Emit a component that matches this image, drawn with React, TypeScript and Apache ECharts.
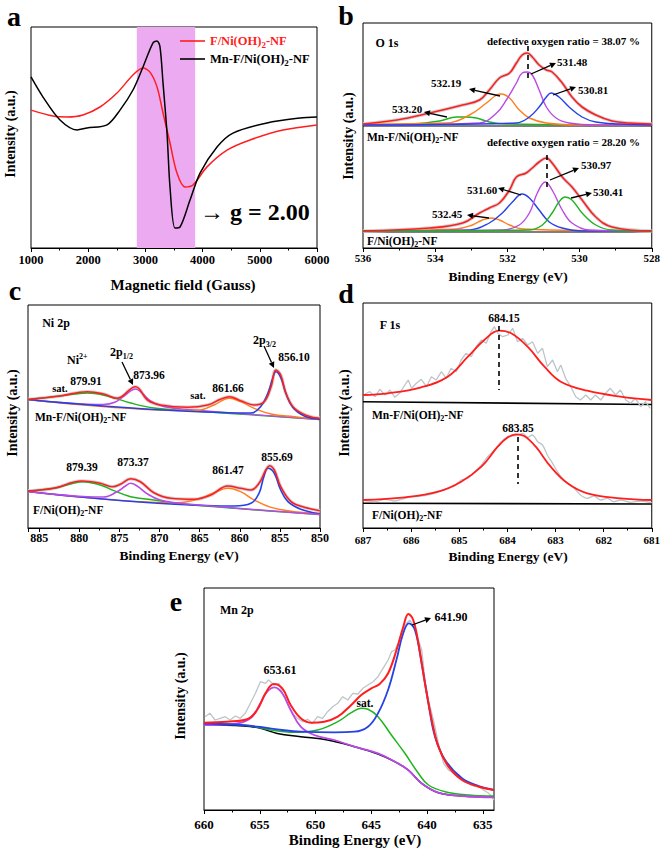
import React, { useEffect, useRef } from 'react';
import * as echarts from 'echarts';

const FONT = '"Liberation Serif", "Times New Roman", serif';
const RED = '#ff1e1e';
const BLUE = '#2642e6';
const PURPLE = '#b94ae6';
const ORANGE = '#ff7d1e';
const GREEN = '#1eb41e';
const GRAY = '#bcc5c9';
const HALO = '#cfd5d8';
const PINK = '#ecaaf0';

// ---------- panel a : EPR ----------
const A_PINK = [2850, 3870];
const A_MN_X = [1000, 1210, 1507, 1804, 1979, 2329, 2556, 2783, 2958, 3133, 3203, 3255, 3308, 3378, 3430, 3517, 3605, 3780, 3955, 4252, 4531, 5126, 5703, 6000];
const A_MN_Y = [77.4, 68.3, 57.9, 53.4, 54.3, 55.7, 62.4, 71.5, 81.9, 92.8, 93.7, 91.0, 74.7, 52.0, 27.6, 9.0, 9.5, 21.7, 33.9, 45.7, 52.0, 56.6, 58.8, 59.3];
const A_F_X = [1000, 1385, 1629, 1909, 2206, 2503, 2783, 2958, 3080, 3203, 3308, 3430, 3552, 3692, 3832, 4077, 4427, 4829, 5406, 6000];
const A_F_Y = [62.4, 59.7, 59.3, 60.2, 63.8, 70.1, 78.3, 81.4, 79.6, 72.9, 61.1, 47.5, 33.9, 27.6, 28.5, 36.7, 44.3, 48.9, 53.4, 55.7];

// ---------- panel b : O 1s ----------
const B_UP_ENV_E = [536, 535.06, 534.15, 533.24, 532.77, 532.5, 532.22, 531.94, 531.75, 531.59, 531.45, 531.31, 531.12, 530.92, 530.76, 530.48, 530.21, 529.93, 529.55, 529.1, 528.63, 528];
const B_UP_ENV = [124, 128, 135, 143, 148, 158, 170, 175, 185, 193, 195, 191, 183, 178, 176, 165, 151, 141, 133, 127, 125, 124];
const B_UP_GREEN_E = [536, 534.62, 533.88, 533.41, 533.19, 532.86, 532.5, 532.03, 528];
const B_UP_GREEN = [123, 124, 127, 131, 131, 130, 126, 124, 123];
const B_UP_ORANGE_E = [536, 533.68, 533.05, 532.58, 532.3, 532.17, 531.94, 531.67, 531.39, 530.92, 530.01, 528];
const B_UP_ORANGE = [124, 125, 133, 145, 153, 154, 150, 138, 130, 125, 123, 123];
const B_UP_PURPLE_E = [536, 532.77, 532.3, 532.03, 531.75, 531.59, 531.45, 531.31, 531.12, 530.92, 530.65, 530.29, 529.55, 528];
const B_UP_PURPLE = [123, 125, 135, 148, 165, 175, 176, 173, 158, 141, 130, 125, 123, 123];
const B_UP_BLUE_E = [536, 531.75, 531.39, 531.12, 530.92, 530.79, 530.57, 530.29, 529.93, 529.55, 528.91, 528];
const B_UP_BLUE = [123, 125, 131, 141, 151, 155, 151, 141, 131, 126, 124, 123];
const B_UP_BASE = [122, 122];
const B_LO_ENV_E = [536, 534.15, 533.24, 532.77, 532.5, 532.22, 531.94, 531.75, 531.48, 531.31, 531.12, 530.92, 530.76, 530.48, 530.21, 529.93, 529.55, 529.1, 528];
const B_LO_ENV = [17, 20, 25, 35, 40, 45, 58, 71, 75, 80, 86, 90, 85, 71, 61, 48, 31, 21, 17];
const B_LO_ORANGE_E = [536, 533.41, 532.97, 532.69, 532.44, 532.22, 531.94, 531.59, 528];
const B_LO_ORANGE = [17, 19, 23, 28, 30, 28, 23, 19, 17];
const B_LO_BLUE_E = [536, 533.05, 532.5, 532.14, 531.86, 531.59, 531.39, 531.12, 530.84, 530.48, 529.93, 528];
const B_LO_BLUE = [17, 18, 25, 35, 46, 54, 50, 38, 26, 20, 17, 17];
const B_LO_PURPLE_E = [536, 532.14, 531.67, 531.39, 531.17, 530.95, 530.76, 530.48, 530.21, 529.74, 528];
const B_LO_PURPLE = [17, 18, 23, 35, 55, 66, 58, 38, 25, 18, 17];
const B_LO_GREEN_E = [536, 531.39, 531.03, 530.76, 530.57, 530.4, 530.21, 529.93, 529.55, 529.1, 528];
const B_LO_GREEN = [17, 18, 23, 35, 46, 51, 48, 35, 23, 18, 17];
const B_LO_BASE = [16, 16];
const B_ENDS = [536, 528];

// ---------- panel c : Ni 2p ----------
const C_UP_ENV_E = [886.4, 882.4, 879.0, 877.0, 875.3, 873.0, 871.5, 869.9, 866.5, 864.0, 862.4, 861.3, 859.9, 858.2, 856.96, 856.1, 855.5, 854.9, 854.25, 853.2, 851.5, 850];
const C_UP_ENV = [128.5, 132, 136.3, 134, 129.7, 141.3, 128, 123, 120.7, 123, 128.7, 131.3, 127.3, 123, 126.3, 141.3, 158, 153, 134.7, 119.7, 112, 109.7];
const C_UP_GREEN_E = [886.4, 882.4, 879.0, 876.5, 873.6, 870.7, 866.5, 850];
const C_UP_GREEN = [128.5, 132, 135, 132, 125, 120, 117.5, 108.5];
const C_UP_PURPLE_E = [886.4, 877.0, 875.5, 874.4, 873.0, 872.2, 871.1, 869.5, 866.5, 850];
const C_UP_PURPLE = [128.5, 123.5, 126, 132, 139, 135, 127, 121.5, 118.5, 108.5];
const C_UP_ORANGE_E = [886.4, 866.5, 864.9, 863.2, 861.3, 859.9, 858.2, 856.1, 853.2, 850];
const C_UP_ORANGE = [128.5, 117.5, 118, 123, 129.7, 126.3, 119.7, 114, 111.3, 108.7];
const C_UP_BLUE_E = [886.4, 858.6, 857.4, 856.5, 855.9, 855.5, 854.9, 854.25, 853.4, 851.96, 850];
const C_UP_BLUE = [128.5, 115, 121.3, 134.7, 149.7, 156.3, 150.7, 134.7, 120.7, 112, 108.7];
const C_LO_ENV_E = [886.4, 883.2, 879.7, 877.4, 875.9, 874.9, 873.6, 872.4, 870.7, 868.6, 865.7, 863.6, 861.5, 859.9, 858.6, 857.6, 856.75, 856.3, 855.7, 854.9, 853.6, 851.96, 850];
const C_LO_ENV = [37, 39.7, 47, 44.7, 41.3, 43.7, 49.3, 46.3, 35.3, 29.7, 28.7, 33, 42, 39.7, 38, 44.7, 58, 62.3, 58, 41.3, 26.3, 20.7, 17.3];
const C_LO_GREEN_E = [886.4, 883.2, 881.1, 879.5, 877.4, 875.7, 873.6, 870.7, 866.5, 850];
const C_LO_GREEN = [37, 39.7, 44, 46.3, 43, 37.3, 31.3, 28, 23.5, 13.5];
const C_LO_PURPLE_E = [886.4, 877.0, 875.3, 874.25, 873.6, 872.8, 871.5, 869.9, 866.5, 850];
const C_LO_PURPLE = [36.5, 31, 36.3, 42, 44.7, 42, 34, 28, 24, 13.5];
const C_LO_ORANGE_E = [886.4, 867.8, 865.3, 863.2, 861.5, 859.9, 858.2, 856.1, 853.2, 850];
const C_LO_ORANGE = [36.5, 25.3, 28.7, 35.3, 39.7, 36.3, 28, 20.7, 16.3, 14.7];
const C_LO_BLUE_E = [886.4, 860.7, 858.6, 857.6, 857.0, 856.5, 855.7, 854.9, 854.0, 852.4, 850];
const C_LO_BLUE = [36.5, 22, 24.7, 34.7, 51.3, 59.7, 54.7, 38, 26.3, 18.7, 14];

// ---------- panel d : F 1s ----------
const D_UP_FIT_E = [687, 686.48, 685.79, 685.24, 684.82, 684.48, 684.17, 683.92, 683.58, 683.23, 682.89, 682.34, 681.65, 681.0];
const D_UP_FIT = [133, 134.7, 140.7, 151.3, 171.3, 188, 197.3, 194.7, 181.3, 161.3, 146.3, 137.3, 131.3, 128];
const D_UP_RAW_E = [686.96, 686.86, 686.75, 686.65, 686.54, 686.44, 686.34, 686.23, 686.13, 686.06, 685.99, 685.89, 685.79, 685.68, 685.58, 685.48, 685.37, 685.27, 685.17, 685.06, 684.96, 684.86, 684.75, 684.65, 684.54, 684.44, 684.34, 684.27, 684.2, 684.1, 683.99, 683.89, 683.79, 683.68, 683.58, 683.48, 683.37, 683.27, 683.17, 683.06, 682.96, 682.89, 682.79, 682.68, 682.58, 682.48, 682.37, 682.27, 682.17, 682.06, 681.96, 681.86, 681.75, 681.65, 681.54, 681.44, 681.34, 681.23, 681.13, 681.03];
const D_UP_RAW = [134, 136.3, 131.3, 138.7, 133, 138, 130.7, 135.3, 143, 148, 139.7, 144.7, 148.7, 141.3, 151.3, 148, 156.3, 149.7, 159.7, 156.3, 168, 174.7, 171.3, 181.3, 188, 184.7, 196.3, 201.3, 194.7, 191.3, 193, 199.7, 186.3, 189.7, 183, 186.3, 174.7, 179.7, 161.3, 168, 156.3, 163, 149.7, 141.3, 131.3, 128, 133, 128, 133, 128, 134.7, 139.7, 133, 138, 128, 124.7, 129.7, 121.3, 126.3, 119.7];
const D_UP_BASE = [126.3, 123.5];
const D_LO_FIT_E = [687, 686.13, 685.44, 684.96, 684.54, 684.2, 683.99, 683.82, 683.65, 683.41, 683.1, 682.75, 682.34, 681.65, 681.0];
const D_LO_FIT = [28, 30.7, 36.3, 46.3, 61.3, 81.3, 90.7, 93.7, 92, 81.3, 61.3, 44.7, 34.7, 29.7, 28];
const D_LO_RAW_E = [686.96, 686.75, 686.54, 686.34, 686.13, 685.92, 685.72, 685.51, 685.3, 685.1, 684.96, 684.82, 684.68, 684.54, 684.41, 684.27, 684.13, 683.99, 683.89, 683.79, 683.68, 683.58, 683.48, 683.37, 683.27, 683.17, 683.06, 682.96, 682.86, 682.75, 682.61, 682.48, 682.34, 682.2, 682.06, 681.92, 681.79, 681.65, 681.44, 681.23, 681.0];
const D_LO_RAW = [27.3, 26.3, 28.7, 27, 29.7, 31.3, 32.3, 34.7, 38.7, 42, 48, 49.7, 56.3, 63, 71.3, 78, 86.3, 91.3, 92, 93, 94.7, 90.7, 93, 86.3, 83, 73, 64.7, 56.3, 49.7, 44.7, 39.7, 33, 29.7, 32, 28, 29.7, 26.3, 28, 25.7, 27, 25.3];
const D_LO_BASE = [24.7, 24];
const D_ENDS = [687, 681];

// ---------- panel e : Mn 2p ----------
const E_TICKS = [635, 640, 645, 650, 655, 660];
const E_MINOR = [637.5, 642.5, 647.5, 652.5, 657.5];
const E_RAW_E = [659.91, 659.46, 659.01, 658.55, 658.1, 657.65, 657.2, 656.75, 656.3, 655.84, 655.39, 654.94, 654.49, 654.19, 653.73, 653.28, 652.98, 652.53, 652.08, 651.63, 651.17, 650.72, 650.27, 649.82, 649.37, 648.92, 648.46, 648.01, 647.56, 647.11, 646.66, 646.2, 645.75, 645.3, 644.85, 644.4, 643.95, 643.49, 643.19, 642.89, 642.59, 642.29, 641.84, 641.54, 641.08, 640.78, 640.48, 640.18, 639.88, 639.43, 638.98, 638.52, 638.07, 637.62, 637.17, 636.72, 636.27, 635.81, 635.36, 634.91, 634.46, 634.0];
const E_RAW = [93.3, 96.7, 90, 91.7, 93.3, 90, 94, 91.7, 96.7, 106.7, 116.7, 128.3, 126.7, 130, 125, 126.7, 116.7, 106.7, 96.7, 91.7, 88.3, 90.7, 86.7, 93.3, 91.7, 98.3, 103.3, 106.7, 113.3, 110, 116.7, 116, 121.7, 125, 128.3, 133.3, 141.7, 150, 158.3, 160, 166.7, 176.7, 186.7, 190, 181.7, 170, 160, 130, 110, 90, 66.7, 46.7, 40, 36.7, 35, 28.3, 26.7, 24, 23.3, 19.7, 16.7, 10];
const E_ENV_E = [660, 657.95, 656.14, 655.24, 654.49, 653.74, 652.98, 652.23, 651.33, 650.42, 649.22, 648.01, 646.8, 645.9, 644.99, 644.25, 643.49, 642.74, 642.13, 641.68, 641.24, 640.78, 640.19, 639.58, 638.98, 638.08, 636.87, 635.37, 634];
const E_ENV = [87.3, 88.3, 90.7, 100, 116.7, 126, 121.7, 105, 91.7, 87.3, 88.3, 93.3, 105, 115, 121.7, 126, 136.7, 160, 183.3, 196, 190, 166.7, 126.7, 90, 63.3, 43.3, 30, 23.3, 20];
const E_PURPLE_E = [660, 657.35, 655.84, 654.94, 654.34, 653.68, 652.98, 652.23, 651.33, 650.13, 648.32, 646.51, 644.4, 642.9, 641.69, 640.49, 638.98, 636.87, 634];
const E_PURPLE = [85, 86, 91.7, 106.7, 118.3, 122.7, 116.7, 100, 83.3, 75, 70, 63.3, 56.7, 48.3, 40, 26.7, 17.3, 14, 12.7];
const E_BG_E = [660, 656.45, 654.94, 653.43, 651.33, 648.92, 646.51, 644.4, 642.9, 641.69, 640.49, 638.98, 636.87, 634];
const E_BG = [85, 84, 81.7, 76.5, 73.3, 70, 63.3, 56, 48.3, 40, 26.7, 17.3, 14, 12.7];
const E_GREEN_E = [660, 656.45, 654.04, 651.93, 649.82, 648.01, 646.8, 645.9, 645.3, 644.4, 643.2, 641.99, 640.78, 639.88, 638.38, 636.27, 634];
const E_GREEN = [86, 85, 80, 77.7, 80, 88.3, 97.3, 101.7, 100.7, 93.3, 75, 56.7, 36.7, 25, 18.3, 15, 14];
const E_BLUE_E = [660, 657.35, 654.94, 653.0, 651.33, 648.32, 646.51, 645.3, 644.4, 643.5, 642.75, 642.14, 641.63, 641.09, 640.49, 639.88, 639.29, 638.38, 636.87, 635.37, 634];
const E_BLUE = [86.5, 85.5, 83, 80, 78.3, 77.7, 78.3, 83.3, 96.7, 120, 150, 176.7, 186.7, 180, 146.7, 106.7, 73.3, 50, 31.7, 24, 20];

const mk = (xs: number[], ys: number[]) => xs.map((x, i) => [x, ys[i]]);

const ln = (gi: number, data: number[][], color: string, width = 1.5, z = 3, smooth: number | boolean = 0.4) => ({
  type: 'line', xAxisIndex: gi, yAxisIndex: gi, data, symbol: 'none', showSymbol: false, smooth,
  lineStyle: { color, width }, z, silent: true, animation: false,
});

const xa = (gi: number, min: number, max: number, inverse: boolean, interval: number | undefined, size: number, margin: number, extra: any = {}) => ({
  type: 'value', gridIndex: gi, min, max, inverse, interval, position: 'bottom',
  axisLine: { show: true, onZero: false, lineStyle: { color: '#000', width: 1 } },
  axisTick: { show: true, inside: false, length: 4, lineStyle: { color: '#000', width: 1 } },
  minorTick: { show: true, splitNumber: 2, length: 2.5, lineStyle: { color: '#000', width: 1 } },
  splitLine: { show: false }, minorSplitLine: { show: false },
  axisLabel: { color: '#000', fontFamily: FONT, fontWeight: 'bold', fontSize: size, margin, formatter: (v: number) => String(v) },
  ...extra,
});
const ya = (gi: number, max: number) => ({ type: 'value', gridIndex: gi, min: 0, max, show: false });

const txt = (x: number, y: number, text: string, size: number, o: any = {}) => ({
  type: 'text', x, y, z: 100, silent: true, rotation: o.rot || 0,
  style: { text, fill: o.color || '#000', font: `bold ${size}px ${FONT}`, textAlign: o.align || 'center', textVerticalAlign: 'middle' },
});
const rt = (x: number, y: number, parts: [string, string][], size: number, color = '#000', align = 'left') => {
  const base = { fontFamily: FONT, fontWeight: 'bold', fill: color };
  const s = Math.round(size * 0.68);
  return {
    type: 'text', x, y, z: 100, silent: true,
    style: {
      text: parts.map(([t, k]) => `{${k}|${t}}`).join(''), textAlign: align, textVerticalAlign: 'middle',
      rich: {
        n: { ...base, fontSize: size, lineHeight: size + 4, verticalAlign: 'middle' },
        b: { ...base, fontSize: s, lineHeight: s, verticalAlign: 'bottom' },
        t: { ...base, fontSize: s, lineHeight: s, verticalAlign: 'top' },
      },
    },
  };
};
const arrow = (x1: number, y1: number, x2: number, y2: number, head = 6) => {
  const a = Math.atan2(y2 - y1, x2 - x1);
  const hx = x2 - head * Math.cos(a);
  const hy = y2 - head * Math.sin(a);
  const w = head * 0.5;
  const px = -Math.sin(a) * w;
  const py = Math.cos(a) * w;
  return [
    { type: 'line', z: 100, silent: true, shape: { x1, y1, x2: hx, y2: hy }, style: { stroke: '#000', lineWidth: 1.3 } },
    { type: 'polygon', z: 100, silent: true, shape: { points: [[x2, y2], [hx + px, hy + py], [hx - px, hy - py]] }, style: { fill: '#000' } },
  ];
};
const dash = (x: number, y1: number, y2: number) => ({
  type: 'line', z: 100, silent: true, shape: { x1: x, y1, x2: x, y2 }, style: { stroke: '#000', lineWidth: 1.6, lineDash: [5, 4] },
});
const sample = (c: string): [string, string][] => [[c + 'F/Ni(OH)', 'n'], ['2', 'b'], ['-NF', 'n']];
const title = (x: number, y: number, t: string, size: number, rot = 0) => txt(x, y, t, size, { rot });

export default function App() {
  const ref = useRef<HTMLDivElement>(null);
  useEffect(() => {
    if (!ref.current) return;
    const chart = echarts.init(ref.current, undefined, { renderer: 'svg' });
    const grids = [
      { left: 31, top: 27, width: 286, height: 221 },
      { left: 363, top: 23, width: 290, height: 225 },
      { left: 28, top: 305, width: 292, height: 223 },
      { left: 363, top: 303, width: 290, height: 225 },
      { left: 204, top: 588, width: 290, height: 222 },
    ].map((g) => ({ ...g, show: true, borderColor: '#000', borderWidth: 1, containLabel: false }));

    const xAxis = [
      xa(0, 1000, 6000, false, 1000, 12.5, 5),
      xa(1, 528, 536, true, 2, 11, 4),
      xa(2, 850, 886.4, true, 5, 12, 4, {
        axisLabel: { color: '#000', fontFamily: FONT, fontWeight: 'bold', fontSize: 12, margin: 4, formatter: (v: number) => (v % 5 === 0 ? String(v) : '') },
      }),
      xa(3, 681, 687, true, 1, 11, 6),
      xa(4, 634, 660, true, undefined, 13, 8, {
        axisLabel: { color: '#000', fontFamily: FONT, fontWeight: 'bold', fontSize: 13, margin: 8, customValues: E_TICKS },
        axisTick: { show: true, inside: false, length: 4, customValues: E_TICKS, lineStyle: { color: '#000' } },
        minorTick: { show: false },
      }),
      xa(4, 634, 660, true, undefined, 13, 8, {
        axisLine: { show: false },
        axisLabel: { show: false, customValues: E_MINOR },
        axisTick: { show: true, inside: false, length: 2.5, customValues: E_MINOR, lineStyle: { color: '#000' } },
        minorTick: { show: false },
      }),
    ];
    const yAxis = [ya(0, 100), ya(1, 225), ya(2, 223), ya(3, 225), ya(4, 222)];

    const series: any[] = [
      // a
      {
        type: 'line', xAxisIndex: 0, yAxisIndex: 0, data: [[A_PINK[0], null]], symbol: 'none', z: 1, silent: true,
        markArea: { silent: true, itemStyle: { color: PINK, opacity: 1 }, data: [[{ xAxis: A_PINK[0] }, { xAxis: A_PINK[1] }]] },
      },
      ln(0, mk(A_F_X, A_F_Y), RED, 1.5, 3, 0.3),
      ln(0, mk(A_MN_X, A_MN_Y), '#000', 1.5, 4, 0.3),
      // b upper
      ln(1, mk(B_ENDS, B_UP_BASE), '#000', 1.2, 2, false),
      ln(1, mk(B_UP_ENV_E, B_UP_ENV), HALO, 3.5, 2),
      ln(1, mk(B_UP_GREEN_E, B_UP_GREEN), GREEN, 1.4, 3),
      ln(1, mk(B_UP_ORANGE_E, B_UP_ORANGE), ORANGE, 1.4, 3),
      ln(1, mk(B_UP_PURPLE_E, B_UP_PURPLE), PURPLE, 1.4, 3),
      ln(1, mk(B_UP_BLUE_E, B_UP_BLUE), BLUE, 1.4, 3),
      ln(1, mk(B_UP_ENV_E, B_UP_ENV), RED, 1.6, 4),
      // b lower
      ln(1, mk(B_ENDS, B_LO_BASE), '#000', 1.2, 2, false),
      ln(1, mk(B_LO_ENV_E, B_LO_ENV), HALO, 3.5, 2),
      ln(1, mk(B_LO_ORANGE_E, B_LO_ORANGE), ORANGE, 1.4, 3),
      ln(1, mk(B_LO_BLUE_E, B_LO_BLUE), BLUE, 1.4, 3),
      ln(1, mk(B_LO_PURPLE_E, B_LO_PURPLE), PURPLE, 1.4, 3),
      ln(1, mk(B_LO_GREEN_E, B_LO_GREEN), GREEN, 1.4, 3),
      ln(1, mk(B_LO_ENV_E, B_LO_ENV), RED, 1.6, 4),
      // c upper
      ln(2, mk(C_UP_ENV_E, C_UP_ENV), HALO, 3.5, 2),
      ln(2, mk(C_UP_GREEN_E, C_UP_GREEN), GREEN, 1.4, 3),
      ln(2, mk(C_UP_PURPLE_E, C_UP_PURPLE), PURPLE, 1.4, 3),
      ln(2, mk(C_UP_ORANGE_E, C_UP_ORANGE), ORANGE, 1.4, 3),
      ln(2, mk(C_UP_BLUE_E, C_UP_BLUE), BLUE, 1.6, 3),
      ln(2, mk(C_UP_ENV_E, C_UP_ENV), RED, 1.6, 4),
      // c lower
      ln(2, mk(C_LO_ENV_E, C_LO_ENV), HALO, 3.5, 2),
      ln(2, mk(C_LO_GREEN_E, C_LO_GREEN), GREEN, 1.4, 3),
      ln(2, mk(C_LO_ORANGE_E, C_LO_ORANGE), ORANGE, 1.4, 3),
      ln(2, mk(C_LO_BLUE_E, C_LO_BLUE), BLUE, 1.6, 3),
      ln(2, mk(C_LO_PURPLE_E, C_LO_PURPLE), PURPLE, 1.6, 3),
      ln(2, mk(C_LO_ENV_E, C_LO_ENV), RED, 1.6, 4),
      // d
      ln(3, mk(D_ENDS, D_UP_BASE), '#000', 1.6, 2, false),
      ln(3, mk(D_UP_RAW_E, D_UP_RAW), GRAY, 1.3, 3, false),
      ln(3, mk(D_UP_FIT_E, D_UP_FIT), RED, 1.8, 4),
      ln(3, mk(D_ENDS, D_LO_BASE), '#000', 1.6, 2, false),
      ln(3, mk(D_LO_RAW_E, D_LO_RAW), GRAY, 1.3, 3, 0.3),
      ln(3, mk(D_LO_FIT_E, D_LO_FIT), RED, 1.8, 4),
      // e
      ln(4, mk(E_RAW_E, E_RAW), GRAY, 1.3, 2, false),
      ln(4, mk(E_BG_E, E_BG), '#000', 1.5, 3),
      ln(4, mk(E_GREEN_E, E_GREEN), GREEN, 1.5, 3),
      ln(4, mk(E_PURPLE_E, E_PURPLE), PURPLE, 1.8, 3),
      ln(4, mk(E_BLUE_E, E_BLUE), BLUE, 1.8, 3),
      ln(4, mk(E_ENV_E, E_ENV), RED, 2, 4),
    ];

    const graphic: any[] = [
      // panel letters
      txt(14, 16, 'a', 28), txt(346, 15, 'b', 28), txt(15, 290, 'c', 28), txt(346, 293, 'd', 28), txt(176, 601, 'e', 28),
      // a
      { type: 'line', z: 100, shape: { x1: 180, y1: 41, x2: 205, y2: 41 }, style: { stroke: RED, lineWidth: 1.6 } },
      { type: 'line', z: 100, shape: { x1: 180, y1: 59, x2: 205, y2: 59 }, style: { stroke: '#000', lineWidth: 1.6 } },
      rt(210, 41, sample(''), 12.5, RED),
      rt(210, 59, sample('Mn-'), 12.5, '#000'),
      txt(200, 212, '→ g = 2.00', 24, { align: 'left' }),
      title(183, 285, 'Magnetic field (Gauss)', 15),
      title(10, 134, 'Intensity (a.u.)', 14, Math.PI / 2),
      // b
      txt(387, 43, 'O 1s', 12),
      txt(487, 41, 'defective oxygen ratio = 38.07 %', 11, { align: 'left' }),
      dash(528, 46, 78),
      txt(572, 62, '531.48', 11), ...arrow(531, 74, 556, 63),
      txt(593, 90, '530.81', 11), ...arrow(553, 95, 576, 87),
      txt(446, 83, '532.19', 11), ...arrow(500, 96, 469, 89),
      txt(407, 109, '533.20', 11), ...arrow(447, 117, 424, 112),
      rt(367, 137, sample('Mn-'), 11.5),
      txt(487, 142, 'defective oxygen ratio = 28.20 %', 11, { align: 'left' }),
      dash(547, 155, 188),
      txt(596, 165, '530.97', 11), ...arrow(550, 180, 579, 168),
      txt(608, 192, '530.41', 11), ...arrow(571, 198, 592, 193),
      txt(482, 190, '531.60', 11), ...arrow(521, 195, 498, 188),
      txt(447, 214, '532.45', 11), ...arrow(489, 218, 467, 215),
      rt(367, 241, sample(''), 11.5),
      title(508, 276, 'Binding Energy (eV)', 13.5),
      title(348, 136, 'Intensity (a.u.)', 14, Math.PI / 2),
      // c
      txt(56, 323, 'Ni 2p', 12),
      rt(67, 360, [['Ni', 'n'], ['2+', 't']], 12),
      rt(110, 352, [['2p', 'n'], ['1/2', 'b']], 12),
      ...arrow(122, 362, 133, 385),
      txt(149, 375, '873.96', 11.5),
      txt(60, 388, 'sat.', 10.5),
      txt(86, 381, '879.91', 11.5),
      txt(198, 395, 'sat.', 10.5),
      txt(228, 388, '861.66', 11.5),
      rt(253, 340, [['2p', 'n'], ['3/2', 'b']], 12),
      ...arrow(264, 346, 274, 368),
      txt(294, 357, '856.10', 11.5),
      rt(35, 417, sample('Mn-'), 11.5),
      txt(82, 467, '879.39', 11.5),
      txt(133, 462, '873.37', 11.5),
      txt(228, 470, '861.47', 11.5),
      txt(277, 457, '855.69', 11.5),
      rt(33, 510, sample(''), 11.5),
      title(179, 555, 'Binding Energy (eV)', 13.5),
      title(12, 413, 'Intensity (a.u.)', 14, Math.PI / 2),
      // d
      txt(390, 325, 'F 1s', 12),
      txt(504, 318, '684.15', 11.5),
      dash(499, 326, 390),
      rt(372, 415, sample('Mn-'), 11.5),
      txt(518, 428, '683.85', 11.5),
      dash(518, 437, 484),
      rt(372, 515, sample(''), 11.5),
      title(508, 556, 'Binding Energy (eV)', 13.5),
      title(344, 413, 'Intensity (a.u.)', 14, Math.PI / 2),
      // e
      txt(220, 610, 'Mn 2p', 12, { align: 'left' }),
      txt(280, 670, '653.61', 12),
      txt(451, 617, '641.90', 12),
      ...arrow(412, 625, 431, 618),
      txt(365, 703, 'sat.', 11.5),
      title(355, 840, 'Binding Energy (eV)', 15),
      title(180, 696, 'Intensity (a.u.)', 14, Math.PI / 2),
    ];

    chart.setOption({ animation: false, backgroundColor: '#fff', grid: grids, xAxis, yAxis, series, graphic });
    return () => chart.dispose();
  }, []);
  return <div ref={ref} style={{ position: 'absolute', left: 0, top: 0, width: 663, height: 850 }} />;
}
